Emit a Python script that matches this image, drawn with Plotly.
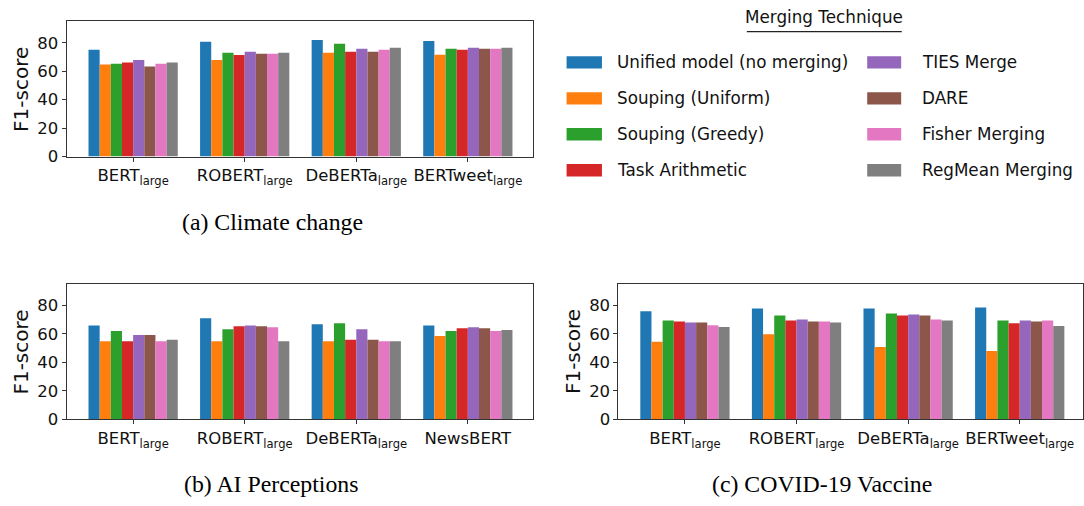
import plotly.graph_objects as go

# ---------------- data ----------------
TECHNIQUES = ["Unified model (no merging)", "Souping (Uniform)", "Souping (Greedy)",
              "Task Arithmetic", "TIES Merge", "DARE", "Fisher Merging", "RegMean Merging"]
COLORS = ["#1f77b4", "#ff7f0e", "#2ca02c", "#d62728", "#9467bd", "#8c564b", "#e377c2", "#7f7f7f"]

MODELS_CLIMATE = ["BERT<sub>large</sub>", "ROBERT<sub>large</sub>", "DeBERTa<sub>large</sub>", "BERTweet<sub>large</sub>"]
MODELS_AI = ["BERT<sub>large</sub>", "ROBERT<sub>large</sub>", "DeBERTa<sub>large</sub>", "NewsBERT"]
MODELS_COVID = ["BERT<sub>large</sub>", "ROBERT<sub>large</sub>", "DeBERTa<sub>large</sub>", "BERTweet<sub>large</sub>"]

# rows follow TECHNIQUES order, columns follow model order
CLIMATE_F1 = [
    [75.2, 80.7, 82.1, 81.4],
    [64.8, 68.0, 73.1, 71.7],
    [65.3, 73.1, 79.3, 75.9],
    [66.2, 71.5, 73.8, 75.2],
    [68.0, 73.8, 75.9, 76.6],
    [63.4, 72.4, 73.8, 75.9],
    [65.3, 72.4, 75.2, 75.9],
    [66.2, 73.1, 76.6, 76.6],
]
AI_F1 = [
    [66.0, 71.0, 66.9, 66.0],
    [54.9, 54.9, 54.9, 58.6],
    [62.1, 63.4, 67.6, 62.1],
    [54.9, 65.5, 55.9, 64.1],
    [59.3, 66.0, 63.4, 64.8],
    [59.3, 65.5, 55.9, 64.1],
    [54.9, 64.8, 54.9, 62.1],
    [55.9, 54.9, 54.9, 62.8],
]
COVID_F1 = [
    [75.9, 77.9, 77.9, 78.6],
    [54.5, 59.8, 50.8, 48.0],
    [69.4, 72.9, 74.3, 69.4],
    [68.7, 69.4, 72.9, 67.4],
    [68.0, 70.1, 73.6, 69.4],
    [68.0, 68.7, 72.9, 68.7],
    [66.0, 68.7, 70.1, 69.4],
    [64.8, 68.0, 69.4, 65.5],
]
Y_TICKS = [0, 20, 40, 60, 80]
CAPTIONS = ["(a) Climate change", "(b) AI Perceptions", "(c) COVID-19 Vaccine"]
LEGEND_TITLE = "Merging Technique"
Y_LABEL = "F1-score"

# ---------------- layout helpers ----------------
W, H = 1084, 506
def px(x):
    return x / W
def py(y):
    return 1 - y / H

fig = go.Figure()

panels = [
    dict(models=MODELS_CLIMATE, vals=CLIMATE_F1, xa="x", ya="y",
         dom_x=(66.7, 533.6), dom_y=(21.7, 159.7), xr=[-0.596, 3.585]),
    dict(models=MODELS_AI, vals=AI_F1, xa="x2", ya="y2",
         dom_x=(66.7, 533.6), dom_y=(289.7, 427.7), xr=[-0.596, 3.585]),
    dict(models=MODELS_COVID, vals=COVID_F1, xa="x3", ya="y3",
         dom_x=(619.0, 1084.0), dom_y=(289.5, 427.7), xr=[-0.596, 3.567]),
]

axis_color = "#333333"
tick_font = dict(family="DejaVu Sans", size=16.5, color="#111111")

for i, p in enumerate(panels):
    for t, name in enumerate(TECHNIQUES):
        fig.add_trace(go.Bar(
            x=p["models"], y=p["vals"][t], name=name,
            marker=dict(color=COLORS[t], line=dict(width=0)),
            xaxis=p["xa"], yaxis=p["ya"], showlegend=False,
        ))
    sfx = "" if i == 0 else str(i + 1)
    fig.update_layout(**{
        "xaxis" + sfx: dict(
            domain=[px(p["dom_x"][0]), px(p["dom_x"][1])],
            anchor=p["ya"], range=p["xr"], type="category",
            categoryorder="array", categoryarray=p["models"],
            showline=True, mirror=True, linecolor=axis_color, linewidth=1,
            ticks="outside", ticklen=4, tickcolor=axis_color, tickwidth=1,
            tickfont=tick_font, showgrid=False, zeroline=False, fixedrange=True,
        ),
        "yaxis" + sfx: dict(
            domain=[py(p["dom_y"][1]), py(p["dom_y"][0])],
            anchor=p["xa"], range=[0, 95.2],
            tickvals=Y_TICKS,
            showline=True, mirror=True, linecolor=axis_color, linewidth=1,
            ticks="outside", ticklen=4, tickcolor=axis_color, tickwidth=1,
            tickfont=tick_font, showgrid=False, zeroline=False, fixedrange=True,
        ),
    })

annotations = []
# y-axis labels
for xc, yc in [(21, 90.7), (21, 358.7), (573, 358.7)]:
    annotations.append(dict(
        text=Y_LABEL, x=px(xc), y=py(yc), xref="paper", yref="paper",
        xanchor="center", yanchor="middle", textangle=-90, showarrow=False,
        font=dict(family="DejaVu Sans", size=20, color="#111111"),
    ))
# captions
for cap, (xc, yc) in zip(CAPTIONS, [(272.5, 226), (271.3, 494), (823, 494)]):
    annotations.append(dict(
        text=cap, x=px(xc), y=py(yc), xref="paper", yref="paper",
        xanchor="center", yanchor="middle", showarrow=False,
        font=dict(family="Liberation Serif", size=23.8, color="#000000"),
    ))

# legend (drawn manually to match two-column layout with wide swatches)
shapes = []
annotations.append(dict(
    text=LEGEND_TITLE, x=px(825), y=py(17), xref="paper", yref="paper",
    xanchor="center", yanchor="middle", showarrow=False,
    font=dict(family="DejaVu Sans", size=16.8, color="#111111"),
))
shapes.append(dict(type="line", xref="paper", yref="paper",
                   x0=px(747.5), x1=px(902.6), y0=py(32.3), y1=py(32.3),
                   line=dict(color="#222222", width=1.2)))
row_y = [63.7, 100.4, 137.0, 173.7]
col_x = [(567.1, 602.5, 615.6), (868.0, 902.0, 921.0)]
for t, name in enumerate(TECHNIQUES):
    c = t // 4
    r = t % 4
    sx0, sx1, tx = col_x[c]
    yc = row_y[r]
    shapes.append(dict(type="rect", xref="paper", yref="paper",
                       x0=px(sx0), x1=px(sx1), y0=py(yc + 6.3), y1=py(yc - 6.3),
                       fillcolor=COLORS[t], line=dict(width=0)))
    annotations.append(dict(
        text=name, x=px(tx), y=py(yc), xref="paper", yref="paper",
        xanchor="left", yanchor="middle", showarrow=False,
        font=dict(family="DejaVu Sans", size=16.8, color="#111111"),
    ))

fig.update_layout(
    width=W, height=H, autosize=False,
    margin=dict(l=0, r=0, t=0, b=0),
    paper_bgcolor="white", plot_bgcolor="white",
    barmode="group", bargap=0.2, bargroupgap=0.0,
    showlegend=False,
    annotations=annotations, shapes=shapes,
)

fig.write_html(
    "out.html",
    config={"displayModeBar": False},
    post_script="document.body.style.margin='0';document.body.style.overflow='hidden';",
)
